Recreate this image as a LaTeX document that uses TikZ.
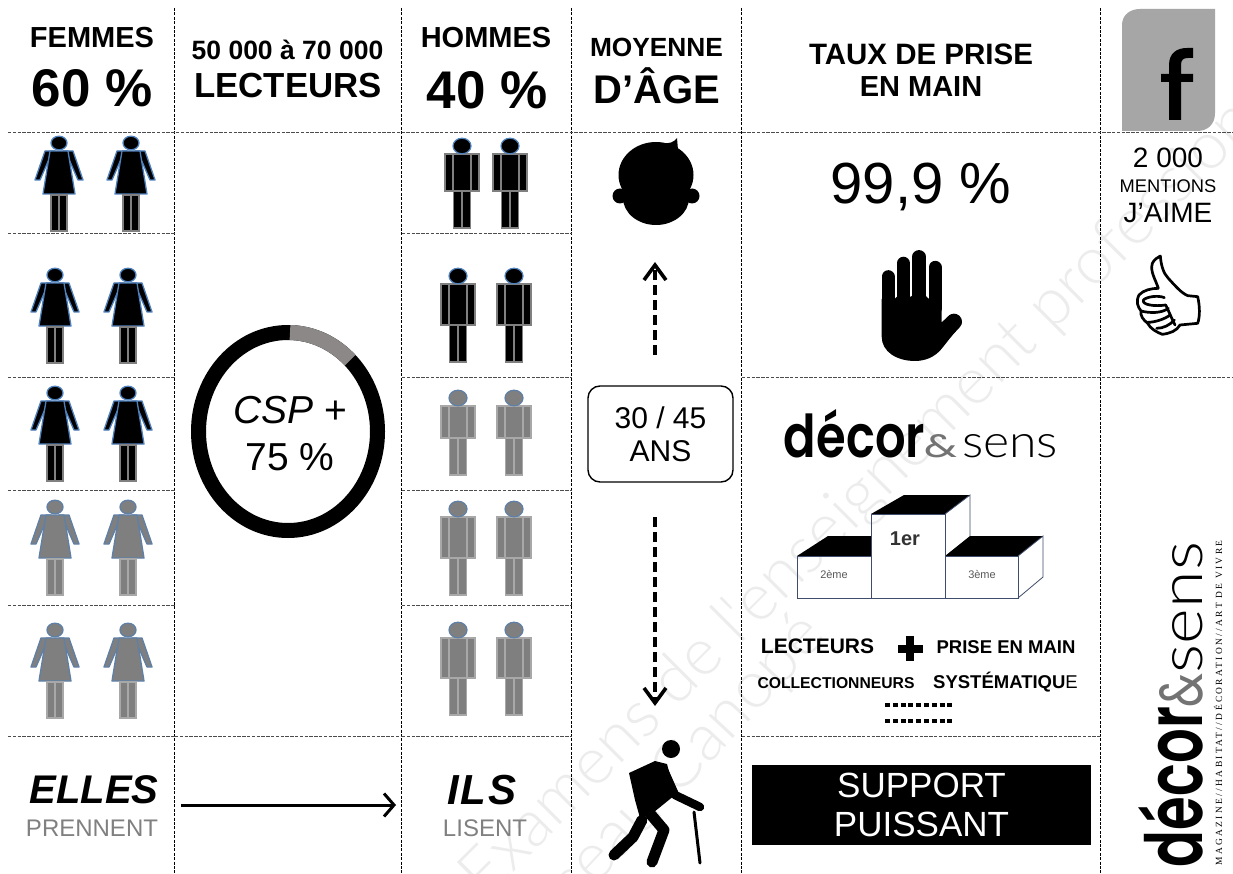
\documentclass[tikz,border=0pt]{standalone}
\usepackage{fontspec}
\usepackage{graphicx}
\usetikzlibrary{arrows.meta}
\setmainfont{Liberation Sans}
\newfontfamily\popf{Poppins SemiBold}
\newfontfamily\popr{Poppins}
\newfontfamily\thinf{Lato Light}
\newfontfamily\tagf[LetterSpace=25]{Liberation Serif}
\newcommand\sz[1]{\fontsize{#1}{#1}\selectfont}
\definecolor{figblue}{HTML}{4F81BD}
\definecolor{figgrey}{HTML}{7F7F7F}
\definecolor{legline}{HTML}{808080}
\definecolor{leglight}{HTML}{A8A8A8}
\definecolor{dimblue}{HTML}{5F7FA6}
\definecolor{podline}{HTML}{3F4C6B}
\definecolor{ringgrey}{HTML}{8C8888}
\newcommand\femme[5]{%
\begin{scope}[shift={(#1,#2)}]
 \filldraw[fill=#3,draw=#4,line width=1.3pt,line join=round] (-14,8)--(-24,37)--(-19,37)--(-9,14)--(-4,8)--cycle;
 \filldraw[fill=#3,draw=#4,line width=1.3pt,line join=round] (14,8)--(24,37)--(19,37)--(9,14)--(4,8)--cycle;
 \filldraw[fill=#3,draw=#4,line width=1.3pt,line join=round] (-9,8)--(9,8)--(16,51)--(-16,51)--cycle;
 \filldraw[fill=#3,draw=#4,line width=1.3pt] (0,0) ellipse [x radius=8pt,y radius=6.8pt];
 \filldraw[fill=#3,draw=#5,line width=1.4pt] (-8,52) rectangle (0,88);
 \filldraw[fill=#3,draw=#5,line width=1.4pt] (0,52) rectangle (8,88);
\end{scope}}
\newcommand\homme[6]{%
\begin{scope}[shift={(#1,#2)}]
 \filldraw[fill=#3,draw=#5,line width=1.3pt] (-17,8) rectangle (-9.5,#6-37);
 \filldraw[fill=#3,draw=#5,line width=1.3pt] (9.5,8) rectangle (17,#6-37);
 \filldraw[fill=#3,draw=#5,line width=1.3pt] (-8.5,8) rectangle (8.5,#6-37);
 \filldraw[fill=#3,draw=#5,line width=1.3pt] (-8.5,#6-37) rectangle (0,#6);
 \filldraw[fill=#3,draw=#5,line width=1.3pt] (0,#6-37) rectangle (8.5,#6);
 \filldraw[fill=#3,draw=#4,line width=1.2pt] (0,0) ellipse [x radius=9pt,y radius=7.8pt];
\end{scope}}
\tikzset{
 lab/.style={inner sep=0pt,align=center,text=black},
 gridv/.style={black,line width=.9pt,dash pattern=on 3pt off 1.4pt},
 gridh/.style={black!70,line width=1pt,dash pattern=on 3.4pt off 1.4pt},
 agearrow/.style={black,line width=3.6pt,dash pattern=on 10pt off 5pt,-{Straight Barb[length=15pt,width=22pt,line width=3.6pt]}},
 walk/.style={line width=#1,line cap=round,line join=round,black},
 watermark/.style={inner sep=0pt,text=black,text opacity=.075,font=\thinf\sz{66}}
}
\begin{document}
\begin{tikzpicture}[x=1pt,y=-1pt]
\useasboundingbox (0,0) rectangle (1233,874);
\fill[white] (0,0) rectangle (1233,874);
% watermark
\begin{scope}
\clip (0,0) rectangle (1233,874);
\node[watermark,rotate=45] (wmA) at (890,470) {Examens de l'enseignement professionnel};
\node[watermark,rotate=47,anchor=east] (wmB) at (815,625) {Réseau Canopé};
\end{scope}
% grid
\foreach \px in {175,402,572,742,1101} \draw[gridv] (\px-.5,8) -- (\px-.5,874);
\draw[gridh] (8,133) -- (1233,133);
\foreach \py in {234,377,490,605,736} {\draw[gridh] (8,\py) -- (175,\py); \draw[gridh] (402,\py) -- (572,\py);}
\draw[gridh] (742,377) -- (1233,377);
\draw[gridh] (175,736) -- (402,736);
\draw[gridh] (742,736) -- (1101,736);
% headers
\node[lab,font=\bfseries\sz{29}] (t1) at (92,38) {FEMMES};
\node[lab,font=\bfseries\sz{53}] (t2) at (92,88) {60 \%};
\node[lab,font=\bfseries\sz{26.5}] (t3) at (287.5,50) {50 000 à 70 000};
\node[lab,font=\bfseries\sz{34.8}] (t4) at (288,86) {LECTEURS};
\node[lab,font=\bfseries\sz{29}] (t5) at (486,38) {HOMMES};
\node[lab,font=\bfseries\sz{53}] (t6) at (487,90) {40 \%};
\node[lab,font=\bfseries\sz{26.3}] (t7) at (656.5,47) {MOYENNE};
\node[lab,font=\bfseries\sz{40}] (t8) at (657,86) {D’ÂGE};
\node[lab,font=\bfseries\sz{29.5}] (t9) at (921,54) {TAUX DE PRISE};
\node[lab,font=\bfseries\sz{29}] (t10) at (921,87) {EN MAIN};
% facebook
\fill[black!35] (1122,25) .. controls (1122,15) and (1130,9) .. (1140,9) -- (1215,9) -- (1215,113) .. controls (1215,125) and (1207,131) .. (1197,131) -- (1122,131) -- cycle;
\fill[black] (1169,120) -- (1169,82) -- (1161,82) -- (1161,74) -- (1169,74) -- (1169,65) .. controls (1169,53) and (1177,48) .. (1187,48) -- (1193,48) -- (1193,58) -- (1188,58) .. controls (1183,58) and (1181,60) .. (1181,65) -- (1181,74) -- (1193,74) -- (1193,82) -- (1181,82) -- (1181,120) -- cycle;
\node[lab,font=\sz{28}] (c1) at (1168,158) {2 000};
\node[lab,font=\sz{18.3}] (c2) at (1168,186) {MENTIONS};
\node[lab,font=\sz{28}] (c3) at (1168,213) {J’AIME};
% thumb
\begin{scope}[shift={(1125,245)},x=.3333pt,y=-.3333pt,line width=2.7pt,line join=round,line cap=round]
\draw[black,fill=white] (100,130) .. controls (90,100) and (75,80) .. (82,55) .. controls (88,42) and (98,38) .. (106,33) .. controls (108,60) and (115,85) .. (130,100) .. controls (150,122) and (170,145) .. (188,152) -- (218,155) .. controls (225,185) and (225,215) .. (218,235) -- (165,240) .. controls (155,258) and (135,265) .. (112,268) .. controls (95,262) and (75,250) .. (68,235) .. controls (55,225) and (45,212) .. (48,198) .. controls (38,185) and (32,170) .. (42,150) .. controls (55,135) and (80,130) .. (100,130);
\draw[black] (118,158) .. controls (100,150) and (65,155) .. (55,165) .. controls (50,180) and (90,185) .. (122,180);
\draw[black] (48,198) .. controls (75,205) and (110,205) .. (130,190);
\draw[black] (68,232) .. controls (90,232) and (120,222) .. (135,210);
\draw[black] (95,250) .. controls (115,250) and (135,240) .. (148,225);
\draw[black] (122,180) .. controls (130,195) and (135,210) .. (150,240);
\end{scope}
% 99,9
\node[lab,font=\sz{58}] (p1) at (921,187) {99,9 \%};
% hand
\begin{scope}[shift={(860,235)},x=.3333pt,y=-.3333pt]
\draw[walk=13pt] (84,125) -- (84,220);
\draw[walk=13.2pt] (130,85) -- (130,220);
\draw[walk=13.2pt] (177,65) -- (177,220);
\draw[walk=13pt] (225,97) -- (225,220);
\fill[black] (65,192) -- (104,192) -- (110,186) -- (150,186) -- (157,182) -- (197,182) -- (204,190) -- (245,190) -- (245,262) -- (270,240) -- (305,265) -- (250,335) .. controls (225,370) and (190,378) .. (165,378) .. controls (110,378) and (65,350) .. (65,305) -- cycle;
\draw[walk=16pt] (282,260) -- (240,305);
\end{scope}
% figures
\femme{59}{143}{black}{figblue}{legline}\femme{131}{143}{black}{figblue}{legline}
\femme{55}{275}{black}{figblue}{legline}\femme{128}{275}{black}{figblue}{legline}
\femme{55}{393}{black}{figblue}{legline}\femme{128}{393}{black}{figblue}{legline}
\femme{55}{507}{figgrey}{dimblue}{leglight}\femme{128}{507}{figgrey}{dimblue}{leglight}
\femme{55}{630}{figgrey}{dimblue}{leglight}\femme{128}{630}{figgrey}{dimblue}{leglight}
\homme{462}{146}{black}{figblue}{legline}{82}\homme{510}{146}{black}{figblue}{legline}{82}
\homme{458}{276}{black}{figblue}{legline}{86}\homme{514}{276}{black}{figblue}{legline}{86}
\homme{458}{398}{figgrey}{dimblue}{leglight}{77}\homme{514}{398}{figgrey}{dimblue}{leglight}{77}
\homme{458}{509}{figgrey}{dimblue}{leglight}{86}\homme{514}{509}{figgrey}{dimblue}{leglight}{86}
\homme{458}{630}{figgrey}{dimblue}{leglight}{85}\homme{514}{630}{figgrey}{dimblue}{leglight}{85}
% ring
\draw[black,line width=15pt] (288,431.5) ellipse [x radius=89.5pt,y radius=99pt];
\draw[ringgrey,line width=15pt] (290,332.5) arc[start angle=88.7,end angle=46,x radius=89.5pt,y radius=99pt];
\node[lab,font=\sz{39}] (r1) at (290,410) {\textit{CSP} +};
\node[lab,font=\sz{39}] (r2) at (290,457) {75 \%};
% bottom row
\node[lab,font=\bfseries\itshape\sz{40}] (b1) at (94,790) {ELLES};
\node[lab,font=\sz{24},text=black!50] (b2) at (92,828) {PRENNENT};
\node[lab,font=\bfseries\itshape\sz{42}] (b3) at (482,790) {I\kern2pt L\kern2pt S};
\node[lab,font=\sz{24},text=black!50] (b4) at (485,828) {LISENT};
\coordinate (arL) at (181,805); \coordinate (arR) at (396,805);
\draw[black,line width=3pt,-{Straight Barb[length=10pt,width=23pt,line width=3pt]}] (arL) -- (arR);
% age column
\fill[black] (656,175) ellipse [x radius=37.5pt,y radius=33pt];
\fill[black] (656,198) ellipse [x radius=33pt,y radius=27pt];
\fill[black] (620,196) circle (7.5pt);
\fill[black] (692,196) circle (7.5pt);
\fill[black] (662,143) .. controls (670,144) and (674,142) .. (677,138) -- (678,150) -- cycle;
\node[lab,draw=black,line width=1.4pt,rounded corners=12pt,minimum width=145pt,minimum height=96pt,font=\sz{30}] (agebox) at (660.5,434) {30 / 45\\[3pt]ANS};
\coordinate (ageUp) at (655,262); \coordinate (ageUpS) at (655,355);
\coordinate (ageDn) at (655,706); \coordinate (ageDnS) at (655,517);
\draw[agearrow] (ageUpS) -- (ageUp);
\draw[agearrow] (ageDnS) -- (ageDn);
% walker
\fill[black] (671,749) circle (9pt);
\fill[black] (629,773) -- (655,761) -- (667,764) -- (675,795) -- (654,812) -- (640,818) -- (635,800) -- cycle;
\draw[walk=11pt] (647,810) -- (664,830) -- (652,862);
\draw[walk=11pt] (642,820) -- (633,837) -- (614,855);
\draw[walk=8.5pt] (663,768) -- (675,795) -- (700,807);
\draw[walk=3pt] (694,812) -- (700,863);
% support
\node[lab,fill=black,text=white,minimum width=339pt,minimum height=80pt,font=\sz{35}] (sup) at (921.5,805) {SUPPORT\\[4pt]PUISSANT};
% logo
\node[lab] (lg1) at (854.5,434) {\resizebox{141pt}{48pt}{\popf décor}};
\node[lab] (lg2) at (941,446.5) {\resizebox{33pt}{23pt}{\color{black!55}\popr\&}};
\node[lab] (lg3) at (1010,446.5) {\resizebox{96pt}{23pt}{\thinf sens}};
% podium
\fill[black] (871,514) -- (904,495) -- (970,495) -- (945,514) -- cycle;
\fill[black] (797,556) -- (828,536) -- (871,536) -- (871,556) -- cycle;
\fill[black] (945,556) -- (970,536) -- (1043,536) -- (1018,556) -- cycle;
\draw[podline,line width=.8pt] (797,556) rectangle (871,598);
\draw[podline,line width=.8pt] (871,514) rectangle (945,598);
\draw[podline,line width=.8pt] (945,556) rectangle (1018,598);
\draw[podline,line width=.8pt] (945,514) -- (970,495) -- (970,536);
\draw[podline,line width=.8pt] (1018,556) -- (1043,536) -- (1043,577) -- (1018,598);
\node[lab,font=\bfseries\sz{20},text=black!80] (pd1) at (905,539) {1er};
\node[lab,font=\sz{11},text=black!65] (pd2) at (834,574) {2ème};
\node[lab,font=\sz{11},text=black!65] (pd3) at (982,574) {3ème};
% summary text
\node[lab,font=\bfseries\sz{21}] (s1) at (817.5,646) {LECTEURS};
\node[lab,font=\bfseries\sz{18.5}] (s2) at (1006,647) {PRISE EN MAIN};
\node[lab,font=\bfseries\sz{15.7}] (s3) at (836,683) {COLLECTIONNEURS};
\node[lab,font=\bfseries\sz{18.5}] (s4) at (1005.5,682) {SYSTÉMATIQU{\mdseries E}};
\fill[black] (897.5,644.5) rectangle (922.5,652.5);
\fill[black] (906,636) rectangle (914,660.5);
\draw[black,line width=3.5pt,dash pattern=on 5pt off 2.8pt] (885,705) -- (953,705);
\draw[black,line width=3.5pt,dash pattern=on 5pt off 2.8pt] (885,721) -- (953,721);
% rotated logo
\node[lab,rotate=90] (rl1) at (1171,787) {\resizebox{160pt}{64pt}{\popf décor}};
\node[lab,rotate=90] (rl2) at (1181.5,690) {\resizebox{34pt}{43pt}{\color{black!55}\popr\&}};
\node[lab,rotate=90] (rl3) at (1188,607.5) {\resizebox{131pt}{30pt}{\thinf sens}};
\node[lab,rotate=90] (rl4) at (1218,703) {\resizebox{325pt}{!}{\tagf MAGAZINE//HABITAT//DÉCORATION//ART DE VIVRE}};
\end{tikzpicture}
\end{document}
